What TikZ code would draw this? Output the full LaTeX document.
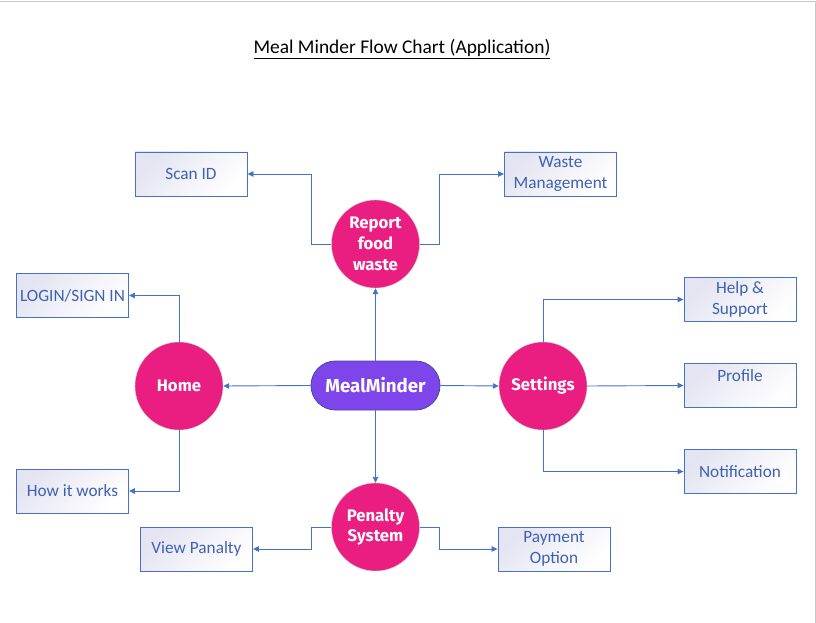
\documentclass[tikz,border=0pt]{standalone}
\usepackage{fontspec}
\setmainfont{Carlito}
\newfontfamily\discfont{Fira Sans}
\usetikzlibrary{arrows.meta,shapes.misc}

\definecolor{linkblue}{HTML}{4472C4}
\definecolor{labelblue}{HTML}{3D62B3}
\definecolor{discpink}{HTML}{EA1D80}
\definecolor{pillviolet}{HTML}{7E45EA}
\definecolor{pillrim}{HTML}{41489E}
\definecolor{boxtint}{HTML}{E4E4F2}
\definecolor{framegray}{HTML}{C8C8C8}

\tikzstyle{link} = [draw=linkblue, line width=0.9bp, -{Triangle[length=6bp,width=5.5bp]}]
\tikzstyle{leaf} = [draw=linkblue, line width=0.9bp, shade, top color=boxtint, bottom color=white, shading angle=45,
  minimum width=112bp, minimum height=44bp, inner sep=0pt, align=center,
  text=labelblue, font=\fontsize{17.3}{21}\selectfont]
\tikzstyle{disc} = [circle, fill=discpink, draw=gray!40, line width=0.4bp, minimum size=88bp, inner sep=0pt,
  align=center, text=white, font=\discfont\bfseries\fontsize{16.8}{21}\selectfont]
\tikzstyle{hub} = [rounded rectangle, fill=pillviolet, draw=pillrim, line width=0.8bp,
  minimum width=129bp, minimum height=49bp, inner sep=0pt, text=white,
  font=\discfont\bfseries\fontsize{18.8}{21}\selectfont]

\begin{document}
\begin{tikzpicture}[x=1bp, y=-1bp]
\useasboundingbox (0,0) rectangle (816,623);
\draw[framegray, line width=1bp] (0,1.5) -- (815,1.5) -- (815,623);

\node[font=\fontsize{19.5}{23}\selectfont] (title) at (402,49) {\underline{Meal Minder Flow Chart (Application)}};

\node[hub] (core) at (375.5,385.5) {MealMinder};
\node[disc] (report) at (375.5,244) {Report\\food\\waste};
\node[disc] (home) at (179,386) {Home};
\node[disc] (settings) at (543,386) {Settings};
\node[disc] (penalty) at (375.5,527) {Penalty\\System};

\node[leaf] (scan) at (191,174) {Scan ID};
\node[leaf] (waste) at (560.5,174) {Waste\\Management};
\node[leaf] (login) at (72.5,295.5) {LOGIN/SIGN IN};
\node[leaf] (works) at (72.5,491) {How it works};
\node[leaf] (help) at (740,299.5) {Help \&\\Support};
\node[leaf] (profile) at (740,385.5) {Profile\\\mbox{}};
\node[leaf] (notify) at (740,471.5) {Notification};
\node[leaf] (view) at (196.5,549) {View Panalty};
\node[leaf] (payment) at (554,549) {Payment\\Option};

\draw[link] (core.north) -- (report.south);
\draw[link] (core.south) -- (penalty.north);
\draw[link] (core.west) -- (home.east);
\draw[link] (core.east) -- (settings.west);

\draw[link] (report.west) -- ++(-20,0) |- (scan.east);
\draw[link] (report.east) -- ++(20,0) |- (waste.west);
\draw[link] (home.north) |- (login.east);
\draw[link] (home.south) |- (works.east);
\draw[link] (settings.north) |- (help.west);
\draw[link] (settings.east) -- (profile.west);
\draw[link] (settings.south) |- (notify.west);
\draw[link] (penalty.west) -- ++(-20,0) |- (view.east);
\draw[link] (penalty.east) -- ++(20,0) |- (payment.west);

\end{tikzpicture}
\end{document}
